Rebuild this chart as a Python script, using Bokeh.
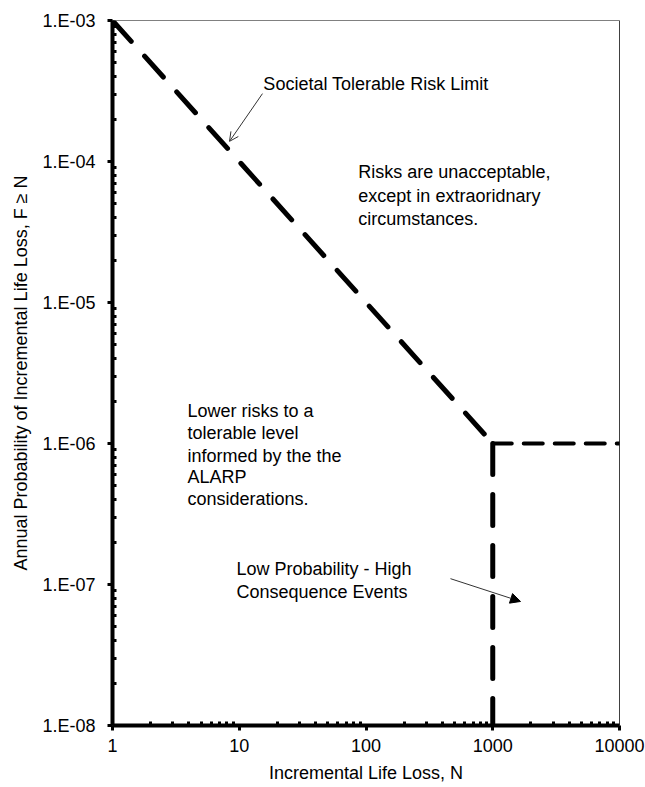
from bokeh.plotting import figure
from bokeh.models import (Range1d, FixedTicker, CustomJSTickFormatter, Label,
                          Arrow, OpenHead, NormalHead, Span)
from bokeh.embed import file_html
from bokeh.resources import INLINE

# ---------------- data ----------------
# Societal tolerable risk limit (F-N line)
limit_n = [1, 1000]
limit_f = [1e-3, 1e-6]
# horizontal limit beyond N = 1000
cap_n = [1000, 10000]
cap_f = [1e-6, 1e-6]
# vertical limit at N = 1000
vert_n = [1000, 1000]
vert_f = [1e-6, 1e-8]

x_ticks = [1, 10, 100, 1000, 10000]
x_tick_labels = ["1", "10", "100", "1000", "10000"]
y_ticks = [1e-8, 1e-7, 1e-6, 1e-5, 1e-4, 1e-3]
y_tick_labels = ["1.E-08", "1.E-07", "1.E-06", "1.E-05", "1.E-04", "1.E-03"]

x_minor = [m * d for d in x_ticks[:-1] for m in range(2, 10)]
y_minor = [m * d for d in y_ticks[:-1] for m in range(2, 10)]

FONT = "Liberation Sans"
FS = "18px"

p = figure(x_axis_type="log", y_axis_type="log",
           x_range=Range1d(1, 10000), y_range=Range1d(1e-8, 1e-3),
           frame_width=507, frame_height=705,
           min_border_left=112, min_border_right=26,
           min_border_top=20, min_border_bottom=62,
           output_backend="svg", toolbar_location=None)

p.grid.visible = False
p.outline_line_color = "#808080"
p.outline_line_width = 1
p.background_fill_color = "white"
p.border_fill_color = "white"

fmt_js = """
for (let i = 0; i < tv.length; i++) {
  if (Math.abs(Math.log10(tick) - Math.log10(tv[i])) < 1e-6) return tl[i];
}
return '';
"""
p.xaxis.ticker = FixedTicker(ticks=x_ticks, minor_ticks=x_minor)
p.yaxis.ticker = FixedTicker(ticks=y_ticks, minor_ticks=y_minor)
p.xaxis.formatter = CustomJSTickFormatter(args=dict(tv=x_ticks, tl=x_tick_labels), code=fmt_js)
p.yaxis.formatter = CustomJSTickFormatter(args=dict(tv=y_ticks, tl=y_tick_labels), code=fmt_js)

for ax in (p.xaxis, p.yaxis):
    ax.axis_line_width = 4
    ax.axis_line_color = "black"
    ax.major_tick_line_width = 3
    ax.major_tick_line_color = "black"
    ax.major_tick_out = 5
    ax.major_tick_in = 0
    ax.minor_tick_line_width = 3
    ax.minor_tick_line_color = "black"
    ax.minor_tick_out = 0
    ax.minor_tick_in = 4
    ax.major_label_text_font = FONT
    ax.major_label_text_font_size = FS
    ax.major_label_text_color = "black"
    ax.axis_label_text_font = FONT
    ax.axis_label_text_font_size = FS
    ax.axis_label_text_font_style = "normal"
    ax.axis_label_text_color = "black"

p.xaxis.axis_label = "Incremental Life Loss, N"
p.yaxis.axis_label = "Annual Probability of Incremental Life Loss, F \u2265 N"
p.xaxis.major_label_standoff = 8
p.xaxis.axis_label_standoff = 8
p.yaxis.major_label_standoff = 12
p.yaxis.axis_label_standoff = 8

# right border (black, thin)
p.add_layout(Span(location=10000, dimension="height", line_color="black", line_width=1))

# limit lines
p.line(limit_n, limit_f, line_color="black", line_width=5, line_dash="28 20", line_cap="round")
p.line(cap_n, cap_f, line_color="black", line_width=4, line_dash="19 12", line_cap="round")
p.line(vert_n, vert_f, line_color="black", line_width=5, line_dash="31 20", line_cap="round")

def lab(x, y, t):
    p.add_layout(Label(x=x, y=y, text=t, text_font=FONT, text_font_size=FS,
                       text_color="black", text_baseline="middle", text_align="left"))

lab(15.5, 3.57e-4, "Societal Tolerable Risk Limit")

lab(87, 8.36e-5, "Risks are unacceptable,")
lab(87, 5.65e-5, "except in extraoridnary")
lab(87, 3.94e-5, "circumstances.")

lab(3.9, 1.69e-6, "Lower risks to a")
lab(3.9, 1.18e-6, "tolerable level")
lab(3.9, 8.22e-7, "informed by the the")
lab(3.9, 5.74e-7, "ALARP")
lab(3.9, 4.07e-7, "considerations.")

lab(9.5, 1.28e-7, "Low  Probability - High")
lab(9.5, 8.91e-8, "Consequence Events")

p.add_layout(Arrow(end=OpenHead(size=9, line_width=1, line_color="#333333"),
                   x_start=15.25, y_start=3.03e-4, x_end=8.38, y_end=1.39e-4,
                   line_width=1, line_color="#333333"))
p.add_layout(Arrow(end=NormalHead(size=10, line_width=1, fill_color="black", line_color="black"),
                   x_start=464, y_start=1.10e-7, x_end=1656, y_end=7.58e-8,
                   line_width=1, line_color="#333333"))

open("out.html", "w").write(file_html(p, INLINE))
